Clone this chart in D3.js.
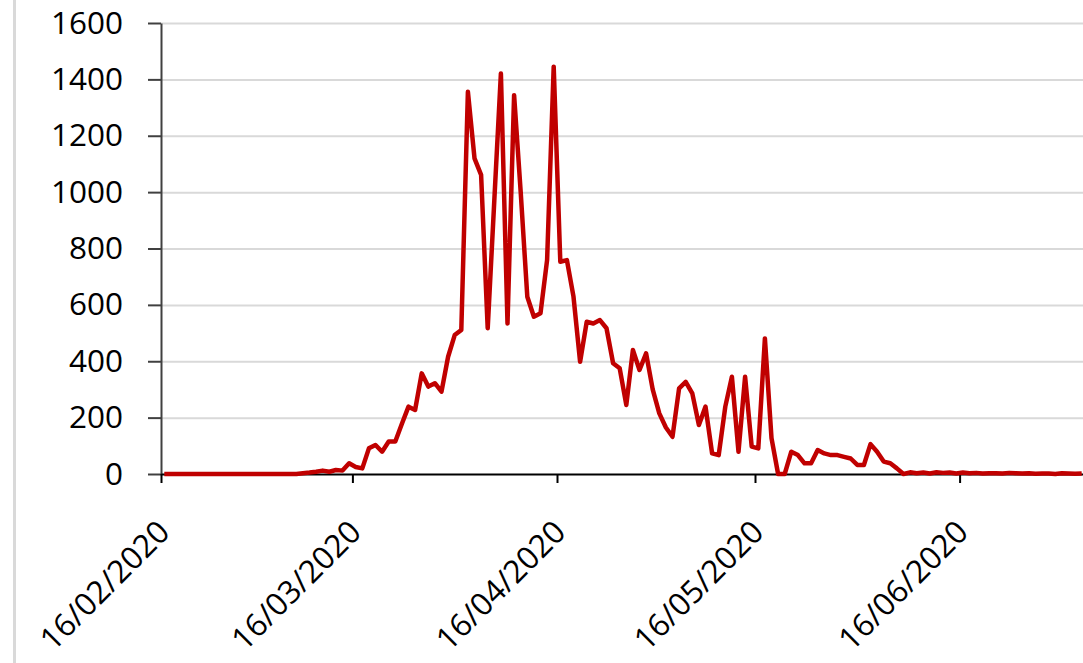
<!DOCTYPE html>
<meta charset="utf-8">
<style>
body { margin: 0; background: #fff; }
svg { display: block; }
.axis text { font: 31.5px "Open Sans", sans-serif; fill: #000; }
.axis--y path { stroke: #404040; stroke-width: 2px; }
.axis--y .tick line { stroke: #404040; stroke-width: 2px; }
.axis--x path { stroke: #000; stroke-width: 2px; }
.axis--x .tick line { stroke: #000; stroke-width: 2px; }
.grid line { stroke: #d9d9d9; stroke-width: 2px; }
.grid path { display: none; }
.series {
  fill: none;
  stroke: #c00000;
  stroke-width: 4.5px;
  stroke-linejoin: round;
}
</style>
<svg width="1083" height="663"></svg>
<script src="https://cdn.jsdelivr.net/npm/d3@7/dist/d3.min.js"></script>
<script>
// daily values, first entry is 16/02/2020
var firstDay = new Date(2020, 1, 16);
var lastDay = new Date(2020, 6, 5);

var dailyValues = [
  0, 0, 0, 0, 0, 0, 0, 0, 0, 0,
  0, 0, 0, 0, 0, 0, 0, 0, 0, 0,
  0, 3, 5, 8, 12, 8, 14, 12, 38, 25,
  20, 91, 103, 79, 115, 115, 178, 239, 227, 357,
  310, 322, 292, 416, 493, 511, 1356, 1120, 1061, 517,
  970, 1421, 534, 1344, 1000, 629, 558, 570, 759, 1445,
  753, 759, 629, 398, 540, 534, 546, 517, 393, 375,
  245, 440, 369, 428, 300, 215, 165, 132, 304, 327,
  286, 174, 239, 73, 67, 239, 345, 79, 345, 97,
  91, 481, 127, 0, 0, 79, 67, 38, 38, 85,
  73, 67, 67, 61, 55, 32, 32, 106, 79, 44,
  38, 20, 0, 6, 3, 5, 2, 6, 4, 5,
  2, 5, 3, 4, 2, 3, 3, 2, 4, 3,
  2, 3, 1, 2, 2, 0, 3, 2, 1, 2
];

var yTicks = [0, 200, 400, 600, 800, 1000, 1200, 1400, 1600];
var xTicks = [
  new Date(2020, 1, 16),
  new Date(2020, 2, 16),
  new Date(2020, 3, 16),
  new Date(2020, 4, 16),
  new Date(2020, 5, 16)
];

var svg = d3.select("svg"),
    plotLeft = 161, plotRight = 1085, plotTop = 23, plotBottom = 474;

// thin grey frame line on the far left
svg.append("line")
    .attr("x1", 14.5).attr("x2", 14.5)
    .attr("y1", 0).attr("y2", 663)
    .style("stroke", "#d9d9d9")
    .style("stroke-width", 3);

var x = d3.scaleTime().domain([firstDay, lastDay]).range([plotLeft, plotRight]),
    y = d3.scaleLinear().domain([0, 1600]).range([plotBottom, plotTop]);

// points sit in the middle of their day
var data = dailyValues.map(function(v, i) {
  return {date: d3.timeHour.offset(d3.timeDay.offset(firstDay, i), 12), value: v};
});

svg.append("g")
    .attr("class", "grid")
    .attr("transform", "translate(" + plotLeft + ",0)")
    .call(d3.axisRight(y).tickValues(yTicks.slice(1)).tickSize(plotRight - plotLeft).tickFormat(""));

svg.append("g")
    .attr("class", "axis axis--y")
    .attr("transform", "translate(" + plotLeft + ",0)")
    .call(d3.axisLeft(y).tickValues(yTicks).tickSizeInner(13).tickSizeOuter(0).tickPadding(25).tickFormat(d3.format("d")));

var xAxis = svg.append("g")
    .attr("class", "axis axis--x")
    .attr("transform", "translate(0," + plotBottom + ")")
    .call(d3.axisBottom(x).tickValues(xTicks).tickSizeInner(9).tickSizeOuter(0).tickFormat(d3.timeFormat("%d/%m/%Y")));

xAxis.selectAll(".tick text")
    .attr("y", 0)
    .attr("dy", 0)
    .attr("text-anchor", "end")
    .attr("transform", "translate(10,60) rotate(-45)");

var line = d3.line()
    .x(function(d) { return x(d.date); })
    .y(function(d) { return y(d.value); });

// series drawn last so it sits over the axis line
svg.append("path")
    .datum(data)
    .attr("class", "series")
    .attr("d", line);
</script>
